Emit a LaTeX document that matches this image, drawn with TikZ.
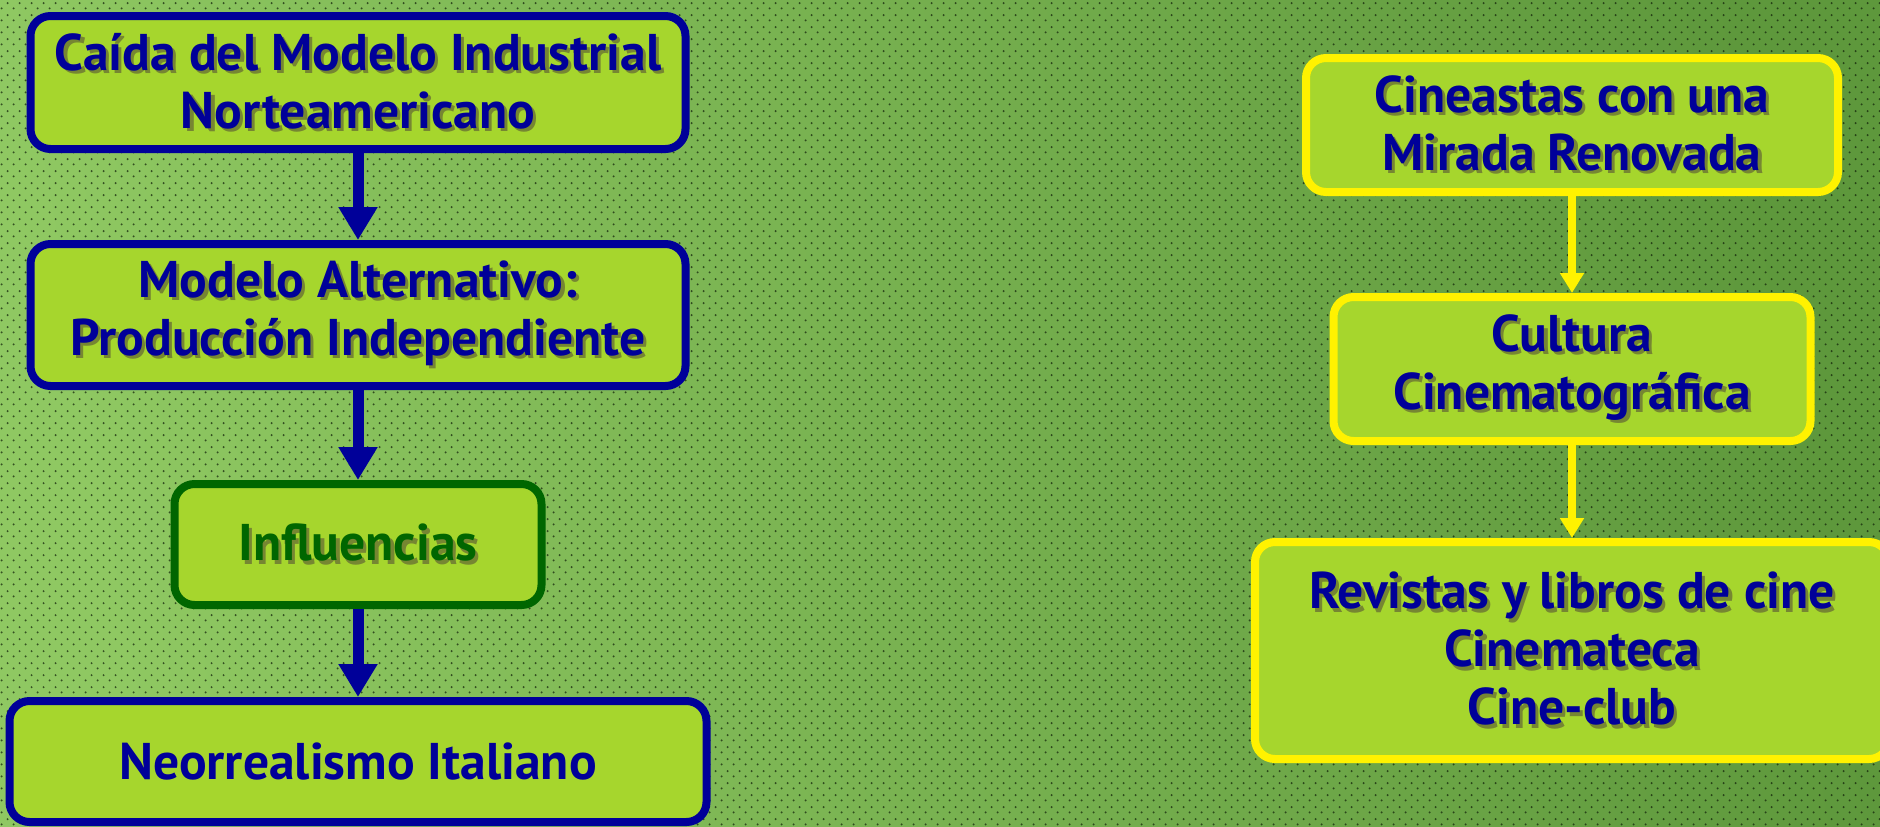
\documentclass[tikz,border=0pt]{standalone}
\usepackage{fontspec}
\setmainfont{PT Sans}
\usetikzlibrary{arrows.meta,patterns}
\definecolor{navyblue}{RGB}{0,0,153}
\definecolor{darkleaf}{RGB}{0,102,0}
\definecolor{boxlime}{RGB}{166,214,45}
\definecolor{shadowolive}{RGB}{118,134,50}
\definecolor{bglight}{RGB}{143,200,98}
\definecolor{bgmid}{RGB}{124,184,82}
\definecolor{bgdark}{RGB}{94,152,60}
\definecolor{dotgrey}{RGB}{15,30,8}
\pgfdeclarepatternformonly{bgdots}{\pgfqpoint{-1pt}{-1pt}}{\pgfqpoint{7pt}{7pt}}{\pgfqpoint{6pt}{6pt}}{%
  \pgfpathcircle{\pgfqpoint{0.8pt}{0.8pt}}{0.55pt}
  \pgfpathcircle{\pgfqpoint{3.8pt}{3.4pt}}{0.55pt}
  \pgfusepath{fill}}
\newcommand{\shtxt}[1]{\rlap{\kern1.6pt\raisebox{-1.6pt}{\color{shadowolive}#1}}#1}

\begin{document}
\begin{tikzpicture}[x=0.5pt, y=-0.5pt,
    bluebox/.style={draw=navyblue, line width=4pt, fill=boxlime, rounded corners=10pt,
        align=center, text=navyblue, font=\fontsize{25.8}{29}\selectfont\bfseries},
    greenbox/.style={bluebox, draw=darkleaf, text=darkleaf},
    yellowbox/.style={bluebox, draw=yellow},
    bluearrow/.style={draw=navyblue, line width=5.5pt, -{Triangle[width=18.5pt, length=16.5pt]}},
    yellowarrow/.style={draw=yellow, line width=4pt, -{Triangle[width=11.5pt, length=10pt]}}]
    \useasboundingbox (0, 0) rectangle (1880, 826);
    \clip (0, 0) rectangle (1880, 826);
    % Background.
    \shade[left color=bglight, middle color=bgmid, right color=bgdark, shading angle=100]
        (0, 0) rectangle (1880, 826);
    \fill[pattern=bgdots, pattern color=dotgrey, opacity=0.7] (0, 0) rectangle (1880, 826);
    % From the industrial model to neorealism.
    \begin{scope}
        \node[bluebox, minimum width=327.5pt, minimum height=66.5pt] (caida) at (358, 82.5)
            {\shtxt{Caída del Modelo Industrial}\\\shtxt{Norteamericano}};
        \node[bluebox, minimum width=327.5pt, minimum height=71pt] (alternativo) at (358, 315)
            {\shtxt{Modelo Alternativo:}\\\shtxt{Producción Independiente}};
        \node[greenbox, minimum width=183.5pt, minimum height=60.5pt] (influencias) at (358, 544.5)
            {\shtxt{Influencias}};
        \node[bluebox, minimum width=348.5pt, minimum height=60.5pt] (neorrealismo) at (358, 761.5)
            {Neorrealismo Italiano};
        \draw[bluearrow] (caida) -- (alternativo);
        \draw[bluearrow] (alternativo) -- (influencias);
        \draw[bluearrow] (influencias) -- (neorrealismo);
    \end{scope}
    % Film culture.
    \begin{scope}
        \node[yellowbox, minimum width=266pt, minimum height=67pt] (cineastas) at (1572, 125)
            {\shtxt{Cineastas con una}\\\shtxt{Mirada Renovada}};
        \node[yellowbox, minimum width=238.5pt, minimum height=72pt] (cultura) at (1572, 369)
            {\shtxt{Cultura}\\\shtxt{Cinematográfica}};
        \node[yellowbox, minimum width=317pt, minimum height=108.5pt] (revistas) at (1572, 650.5)
            {\shtxt{Revistas y libros de cine}\\\shtxt{Cinemateca}\\\shtxt{Cine-club}};
        \draw[yellowarrow] (cineastas) -- (cultura);
        \draw[yellowarrow] (cultura) -- (revistas);
    \end{scope}
\end{tikzpicture}
\end{document}
